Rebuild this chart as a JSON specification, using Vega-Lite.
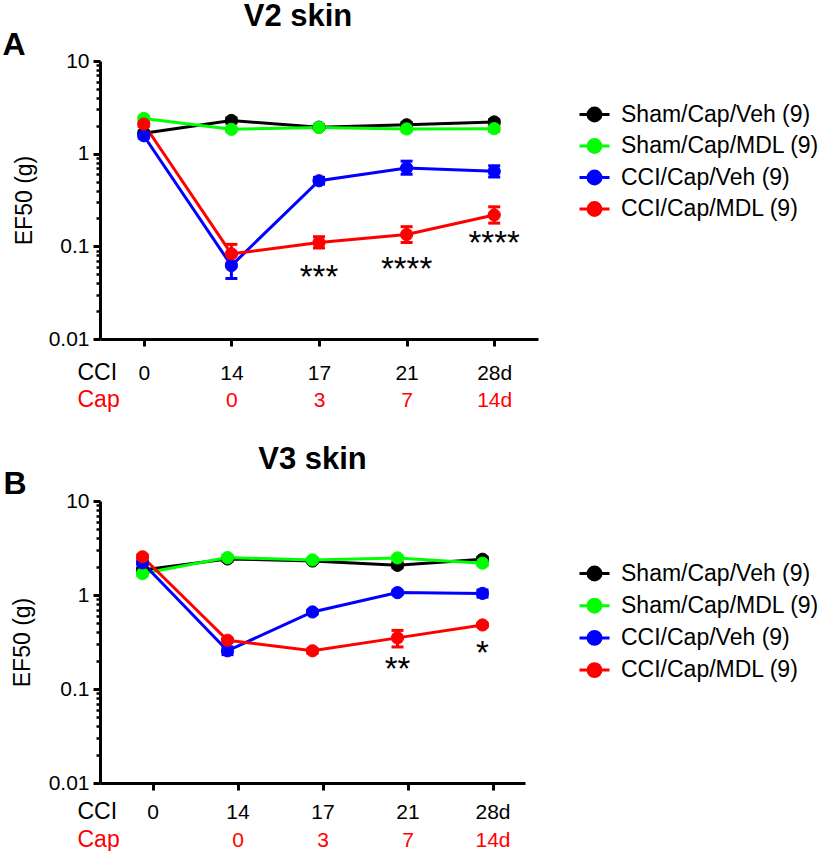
{
  "$schema": "https://vega.github.io/schema/vega-lite/v6.json",
  "padding": {"left": 2, "top": 1, "right": 0, "bottom": 0},
  "background": "white",
  "spacing": 33,
  "resolve": {"scale": {"fill": "independent", "stroke": "independent"}, "legend": {"fill": "independent", "stroke": "independent"}},
  "config": {
    "font": "Liberation Sans",
    "view": {"stroke": null},
    "axis": {"domainColor": "#000", "domainWidth": 3, "tickColor": "#000", "labelColor": "#000", "titleColor": "#000", "grid": false, "labelFont": "Liberation Sans", "titleFont": "Liberation Sans", "titleFontWeight": "normal"},
    "legend": {"labelFont": "Liberation Sans", "labelFontSize": 23, "labelColor": "#000", "labelLimit": 0},
    "title": {"font": "Liberation Sans", "color": "#000"}
  },
  "datasets": {
    "a": [
      {"group": "Sham/Cap/Veh (9)", "day": 0, "ef50": 1.66, "lo": 1.57, "hi": 1.76},
      {"group": "Sham/Cap/Veh (9)", "day": 14, "ef50": 2.28, "lo": 2.15, "hi": 2.42},
      {"group": "Sham/Cap/Veh (9)", "day": 17, "ef50": 1.93, "lo": 1.83, "hi": 2.03},
      {"group": "Sham/Cap/Veh (9)", "day": 21, "ef50": 2.05, "lo": 1.93, "hi": 2.17},
      {"group": "Sham/Cap/Veh (9)", "day": 28, "ef50": 2.2, "lo": 2.07, "hi": 2.33},
      {"group": "Sham/Cap/MDL (9)", "day": 0, "ef50": 2.4, "lo": 2.27, "hi": 2.53},
      {"group": "Sham/Cap/MDL (9)", "day": 14, "ef50": 1.83, "lo": 1.73, "hi": 1.93},
      {"group": "Sham/Cap/MDL (9)", "day": 17, "ef50": 1.92, "lo": 1.82, "hi": 2.02},
      {"group": "Sham/Cap/MDL (9)", "day": 21, "ef50": 1.85, "lo": 1.72, "hi": 1.98},
      {"group": "Sham/Cap/MDL (9)", "day": 28, "ef50": 1.86, "lo": 1.73, "hi": 1.99},
      {"group": "CCI/Cap/Veh (9)", "day": 0, "ef50": 1.56, "lo": 1.47, "hi": 1.65},
      {"group": "CCI/Cap/Veh (9)", "day": 14, "ef50": 0.062, "lo": 0.045, "hi": 0.08},
      {"group": "CCI/Cap/Veh (9)", "day": 17, "ef50": 0.51, "lo": 0.47, "hi": 0.555},
      {"group": "CCI/Cap/Veh (9)", "day": 21, "ef50": 0.7, "lo": 0.6, "hi": 0.83},
      {"group": "CCI/Cap/Veh (9)", "day": 28, "ef50": 0.645, "lo": 0.56, "hi": 0.74},
      {"group": "CCI/Cap/MDL (9)", "day": 0, "ef50": 2.09, "lo": 1.97, "hi": 2.22},
      {"group": "CCI/Cap/MDL (9)", "day": 14, "ef50": 0.083, "lo": 0.066, "hi": 0.105},
      {"group": "CCI/Cap/MDL (9)", "day": 17, "ef50": 0.11, "lo": 0.096, "hi": 0.127},
      {"group": "CCI/Cap/MDL (9)", "day": 21, "ef50": 0.134, "lo": 0.11, "hi": 0.163},
      {"group": "CCI/Cap/MDL (9)", "day": 28, "ef50": 0.218, "lo": 0.178, "hi": 0.267}
    ],
    "a_star": [
      {"day": 17, "y": 0.052, "label": "***"},
      {"day": 21, "y": 0.0635, "label": "****"},
      {"day": 28, "y": 0.121, "label": "****"}
    ],
    "b": [
      {"group": "Sham/Cap/Veh (9)", "day": 0, "ef50": 1.85, "lo": 1.75, "hi": 1.95},
      {"group": "Sham/Cap/Veh (9)", "day": 14, "ef50": 2.42, "lo": 2.3, "hi": 2.55},
      {"group": "Sham/Cap/Veh (9)", "day": 17, "ef50": 2.3, "lo": 2.2, "hi": 2.4},
      {"group": "Sham/Cap/Veh (9)", "day": 21, "ef50": 2.07, "lo": 1.95, "hi": 2.2},
      {"group": "Sham/Cap/Veh (9)", "day": 28, "ef50": 2.4, "lo": 2.28, "hi": 2.52},
      {"group": "Sham/Cap/MDL (9)", "day": 0, "ef50": 1.69, "lo": 1.6, "hi": 1.8},
      {"group": "Sham/Cap/MDL (9)", "day": 14, "ef50": 2.5, "lo": 2.38, "hi": 2.62},
      {"group": "Sham/Cap/MDL (9)", "day": 17, "ef50": 2.36, "lo": 2.25, "hi": 2.47},
      {"group": "Sham/Cap/MDL (9)", "day": 21, "ef50": 2.48, "lo": 2.36, "hi": 2.6},
      {"group": "Sham/Cap/MDL (9)", "day": 28, "ef50": 2.18, "lo": 2.05, "hi": 2.3},
      {"group": "CCI/Cap/Veh (9)", "day": 0, "ef50": 2.2, "lo": 2.1, "hi": 2.3},
      {"group": "CCI/Cap/Veh (9)", "day": 14, "ef50": 0.255, "lo": 0.232, "hi": 0.28},
      {"group": "CCI/Cap/Veh (9)", "day": 17, "ef50": 0.66, "lo": 0.63, "hi": 0.69},
      {"group": "CCI/Cap/Veh (9)", "day": 21, "ef50": 1.06, "lo": 1.01, "hi": 1.11},
      {"group": "CCI/Cap/Veh (9)", "day": 28, "ef50": 1.04, "lo": 0.95, "hi": 1.13},
      {"group": "CCI/Cap/MDL (9)", "day": 0, "ef50": 2.55, "lo": 2.43, "hi": 2.67},
      {"group": "CCI/Cap/MDL (9)", "day": 14, "ef50": 0.33, "lo": 0.315, "hi": 0.345},
      {"group": "CCI/Cap/MDL (9)", "day": 17, "ef50": 0.255, "lo": 0.24, "hi": 0.27},
      {"group": "CCI/Cap/MDL (9)", "day": 21, "ef50": 0.35, "lo": 0.28, "hi": 0.42},
      {"group": "CCI/Cap/MDL (9)", "day": 28, "ef50": 0.48, "lo": 0.46, "hi": 0.5}
    ],
    "b_star": [
      {"day": 21, "y": 0.18, "label": "**"},
      {"day": 28, "y": 0.267, "label": "*"}
    ]
  },
  "vconcat": [
    {
      "width": 438,
      "height": 278,
      "title": {"text": "V2 skin", "fontSize": 31, "fontWeight": "bold", "frame": "group", "anchor": "middle", "dx": -21, "offset": -5},
      "resolve": {"axis": {"x": "independent"}},
      "layer": [
        {
          "data": {"name": "a"},
          "mark": {"type": "rule", "strokeWidth": 3},
          "encoding": {
            "x": {"field": "day", "type": "ordinal", "scale": {"type": "point", "domain": [0, 14, 17, 21, 28], "padding": 0.5},
              "axis": {"orient": "bottom", "title": "CCI", "titleX": -23, "titleY": 40, "titleAlign": "left", "titleBaseline": "alphabetic", "titleAngle": 0, "titleFontSize": 23, "labelAngle": 0, "labelFontSize": 21, "labelBaseline": "alphabetic", "labelPadding": 33, "labelExpr": "datum.value == 28 ? '28d' : '' + datum.value", "tickSize": 7, "tickWidth": 3, "labelOverlap": false}},
            "y": {"field": "lo", "type": "quantitative", "title": "EF50 (g)", "scale": {"type": "log", "domain": [0.01, 10], "nice": false},
              "axis": {"title": "EF50 (g)", "titleFontSize": 23, "titlePadding": 12, "values": [0.01,0.02,0.03,0.04,0.05,0.06,0.07,0.08,0.09,0.1,0.2,0.3,0.4,0.5,0.6,0.7,0.8,0.9,1,2,3,4,5,6,7,8,9,10], "labelExpr": "indexof([0.01,0.1,1,10], datum.value) >= 0 ? datum.label : ''", "format": "~g", "labelFontSize": 21, "labelPadding": 4, "labelOverlap": false, "tickSize": {"condition": {"test": "indexof([0.01,0.1,1,10], datum.value) >= 0", "value": 7}, "value": 4}, "tickWidth": {"condition": {"test": "indexof([0.01,0.1,1,10], datum.value) >= 0", "value": 3}, "value": 2.5}}},
            "y2": {"field": "hi"},
            "stroke": {"field": "group", "type": "nominal", "scale": {"domain": ["Sham/Cap/Veh (9)", "Sham/Cap/MDL (9)", "CCI/Cap/Veh (9)", "CCI/Cap/MDL (9)"], "range": ["#000000", "#00ff00", "#0000ff", "#ff0000"]}}
          }
        },
        {
          "data": {"name": "a"},
          "mark": {"type": "tick", "orient": "horizontal", "size": 12, "thickness": 3, "opacity": 1},
          "encoding": {
            "x": {"field": "day", "type": "ordinal", "axis": null},
            "y": {"field": "lo", "type": "quantitative", "title": "EF50 (g)"},
            "fill": {"field": "group", "type": "nominal", "scale": {"domain": ["Sham/Cap/Veh (9)", "Sham/Cap/MDL (9)", "CCI/Cap/Veh (9)", "CCI/Cap/MDL (9)"], "range": ["#000000", "#00ff00", "#0000ff", "#ff0000"]}}
          }
        },
        {
          "data": {"name": "a"},
          "mark": {"type": "tick", "orient": "horizontal", "size": 12, "thickness": 3, "opacity": 1},
          "encoding": {
            "x": {"field": "day", "type": "ordinal", "axis": null},
            "y": {"field": "hi", "type": "quantitative", "title": "EF50 (g)"},
            "fill": {"field": "group", "type": "nominal"}
          }
        },
        {
          "data": {"name": "a"},
          "mark": {"type": "line", "strokeWidth": 3},
          "encoding": {
            "x": {"field": "day", "type": "ordinal", "axis": null},
            "y": {"field": "ef50", "type": "quantitative", "title": "EF50 (g)"},
            "stroke": {"field": "group", "type": "nominal"}
          }
        },
        {
          "data": {"name": "a"},
          "mark": {"type": "point", "shape": "circle", "filled": true, "size": 150, "opacity": 1, "strokeWidth": 1},
          "encoding": {
            "x": {"field": "day", "type": "ordinal", "axis": null},
            "y": {"field": "ef50", "type": "quantitative", "title": "EF50 (g)"},
            "fill": {"field": "group", "type": "nominal", "legend": {"orient": "none", "legendX": 478, "legendY": 37, "title": null, "symbolType": "M-1,0H1M-0.43,0A0.43,0.43,0,1,1,0.43,0A0.43,0.43,0,1,1,-0.43,0Z", "symbolSize": 900, "symbolStrokeWidth": 3, "labelFontSize": 23, "labelOffset": 10, "labelLimit": 0, "rowPadding": 2.5}},
            "stroke": {"field": "group", "type": "nominal", "legend": {"orient": "none", "legendX": 478, "legendY": 37, "title": null, "symbolType": "M-1,0H1M-0.43,0A0.43,0.43,0,1,1,0.43,0A0.43,0.43,0,1,1,-0.43,0Z", "symbolSize": 900, "symbolStrokeWidth": 3, "labelFontSize": 23, "labelOffset": 10, "labelLimit": 0, "rowPadding": 2.5}}
          }
        },
        {
          "data": {"name": "a_star"},
          "mark": {"type": "text", "fontSize": 33, "baseline": "middle", "dy": 5, "color": "#000"},
          "encoding": {
            "x": {"field": "day", "type": "ordinal", "axis": null},
            "y": {"field": "y", "type": "quantitative", "title": "EF50 (g)"},
            "text": {"field": "label"}
          }
        },
        {
          "data": {"name": "a"},
          "mark": {"type": "text", "text": ""},
          "encoding": {
            "x": {"field": "day", "type": "ordinal",
              "axis": {"orient": "bottom", "domain": false, "ticks": false, "title": "Cap", "titleColor": "#ff0000", "titleX": -23, "titleY": 67, "titleAlign": "left", "titleBaseline": "alphabetic", "titleAngle": 0, "titleFontSize": 23, "labelAngle": 0, "labelFontSize": 21, "labelColor": "#ff0000", "labelBaseline": "alphabetic", "labelPadding": 67, "labelExpr": "datum.value == 0 ? '' : datum.value == 28 ? '14d' : '' + (datum.value - 14)", "labelOverlap": false}},
            "y": {"field": "ef50", "type": "quantitative", "title": "EF50 (g)"}
          }
        },
        {
          "data": {"name": "a"},
          "mark": {"type": "text", "text": ""},
          "encoding": {
            "x": {"field": "day", "type": "ordinal",
              "axis": {"orient": "top", "domain": false, "ticks": false, "labels": false, "title": "A", "titleX": -98, "titleY": -7, "titleAlign": "left", "titleBaseline": "alphabetic", "titleAngle": 0, "titleFontSize": 32, "titleFontWeight": "bold"}},
            "y": {"field": "ef50", "type": "quantitative", "title": "EF50 (g)"}
          }
        }
      ]
    },
    {
      "width": 425,
      "height": 282,
      "title": {"text": "V3 skin", "fontSize": 31, "fontWeight": "bold", "frame": "group", "anchor": "middle", "dx": 0, "offset": -9},
      "resolve": {"axis": {"x": "independent"}},
      "layer": [
        {
          "data": {"name": "b"},
          "mark": {"type": "rule", "strokeWidth": 3},
          "encoding": {
            "x": {"field": "day", "type": "ordinal", "scale": {"type": "point", "domain": [0, 14, 17, 21, 28], "padding": 0.5},
              "axis": {"orient": "bottom", "title": "CCI", "titleX": -23, "titleY": 35, "titleAlign": "left", "titleBaseline": "alphabetic", "titleAngle": 0, "titleFontSize": 23, "labelAngle": 0, "labelFontSize": 21, "labelBaseline": "alphabetic", "labelPadding": 28, "labelExpr": "datum.value == 28 ? '28d' : '' + datum.value", "tickSize": 7, "tickWidth": 3, "tickOffset": 10, "labelOverlap": false}},
            "y": {"field": "lo", "type": "quantitative", "title": "EF50 (g)", "scale": {"type": "log", "domain": [0.01, 10], "nice": false},
              "axis": {"title": "EF50 (g)", "titleFontSize": 23, "titlePadding": 14, "values": [0.01,0.02,0.03,0.04,0.05,0.06,0.07,0.08,0.09,0.1,0.2,0.3,0.4,0.5,0.6,0.7,0.8,0.9,1,2,3,4,5,6,7,8,9,10], "labelExpr": "indexof([0.01,0.1,1,10], datum.value) >= 0 ? datum.label : ''", "format": "~g", "labelFontSize": 21, "labelPadding": 4, "labelOverlap": false, "tickSize": {"condition": {"test": "indexof([0.01,0.1,1,10], datum.value) >= 0", "value": 7}, "value": 4}, "tickWidth": {"condition": {"test": "indexof([0.01,0.1,1,10], datum.value) >= 0", "value": 3}, "value": 2.5}}},
            "y2": {"field": "hi"},
            "stroke": {"field": "group", "type": "nominal", "scale": {"domain": ["Sham/Cap/Veh (9)", "Sham/Cap/MDL (9)", "CCI/Cap/Veh (9)", "CCI/Cap/MDL (9)"], "range": ["#000000", "#00ff00", "#0000ff", "#ff0000"]}}
          }
        },
        {
          "data": {"name": "b"},
          "mark": {"type": "tick", "orient": "horizontal", "size": 12, "thickness": 3, "opacity": 1},
          "encoding": {
            "x": {"field": "day", "type": "ordinal", "axis": null},
            "y": {"field": "lo", "type": "quantitative", "title": "EF50 (g)"},
            "fill": {"field": "group", "type": "nominal", "scale": {"domain": ["Sham/Cap/Veh (9)", "Sham/Cap/MDL (9)", "CCI/Cap/Veh (9)", "CCI/Cap/MDL (9)"], "range": ["#000000", "#00ff00", "#0000ff", "#ff0000"]}}
          }
        },
        {
          "data": {"name": "b"},
          "mark": {"type": "tick", "orient": "horizontal", "size": 12, "thickness": 3, "opacity": 1},
          "encoding": {
            "x": {"field": "day", "type": "ordinal", "axis": null},
            "y": {"field": "hi", "type": "quantitative", "title": "EF50 (g)"},
            "fill": {"field": "group", "type": "nominal"}
          }
        },
        {
          "data": {"name": "b"},
          "mark": {"type": "line", "strokeWidth": 3},
          "encoding": {
            "x": {"field": "day", "type": "ordinal", "axis": null},
            "y": {"field": "ef50", "type": "quantitative", "title": "EF50 (g)"},
            "stroke": {"field": "group", "type": "nominal"}
          }
        },
        {
          "data": {"name": "b"},
          "mark": {"type": "point", "shape": "circle", "filled": true, "size": 150, "opacity": 1, "strokeWidth": 1},
          "encoding": {
            "x": {"field": "day", "type": "ordinal", "axis": null},
            "y": {"field": "ef50", "type": "quantitative", "title": "EF50 (g)"},
            "fill": {"field": "group", "type": "nominal", "legend": {"orient": "none", "legendX": 478, "legendY": 56, "title": null, "symbolType": "M-1,0H1M-0.43,0A0.43,0.43,0,1,1,0.43,0A0.43,0.43,0,1,1,-0.43,0Z", "symbolSize": 900, "symbolStrokeWidth": 3, "labelFontSize": 23, "labelOffset": 10, "labelLimit": 0, "rowPadding": 3.2}},
            "stroke": {"field": "group", "type": "nominal", "legend": {"orient": "none", "legendX": 478, "legendY": 56, "title": null, "symbolType": "M-1,0H1M-0.43,0A0.43,0.43,0,1,1,0.43,0A0.43,0.43,0,1,1,-0.43,0Z", "symbolSize": 900, "symbolStrokeWidth": 3, "labelFontSize": 23, "labelOffset": 10, "labelLimit": 0, "rowPadding": 3.2}}
          }
        },
        {
          "data": {"name": "b_star"},
          "mark": {"type": "text", "fontSize": 33, "baseline": "middle", "dy": 5, "color": "#000"},
          "encoding": {
            "x": {"field": "day", "type": "ordinal", "axis": null},
            "y": {"field": "y", "type": "quantitative", "title": "EF50 (g)"},
            "text": {"field": "label"}
          }
        },
        {
          "data": {"name": "b"},
          "mark": {"type": "text", "text": ""},
          "encoding": {
            "x": {"field": "day", "type": "ordinal",
              "axis": {"orient": "bottom", "domain": false, "ticks": false, "tickOffset": 10, "title": "Cap", "titleColor": "#ff0000", "titleX": -23, "titleY": 63, "titleAlign": "left", "titleBaseline": "alphabetic", "titleAngle": 0, "titleFontSize": 23, "labelAngle": 0, "labelFontSize": 21, "labelColor": "#ff0000", "labelBaseline": "alphabetic", "labelPadding": 63, "labelExpr": "datum.value == 0 ? '' : datum.value == 28 ? '14d' : '' + (datum.value - 14)", "labelOverlap": false}},
            "y": {"field": "ef50", "type": "quantitative", "title": "EF50 (g)"}
          }
        },
        {
          "data": {"name": "b"},
          "mark": {"type": "text", "text": ""},
          "encoding": {
            "x": {"field": "day", "type": "ordinal",
              "axis": {"orient": "top", "domain": false, "ticks": false, "labels": false, "title": "B", "titleX": -97, "titleY": -8, "titleAlign": "left", "titleBaseline": "alphabetic", "titleAngle": 0, "titleFontSize": 32, "titleFontWeight": "bold"}},
            "y": {"field": "ef50", "type": "quantitative", "title": "EF50 (g)"}
          }
        }
      ]
    }
  ]
}
